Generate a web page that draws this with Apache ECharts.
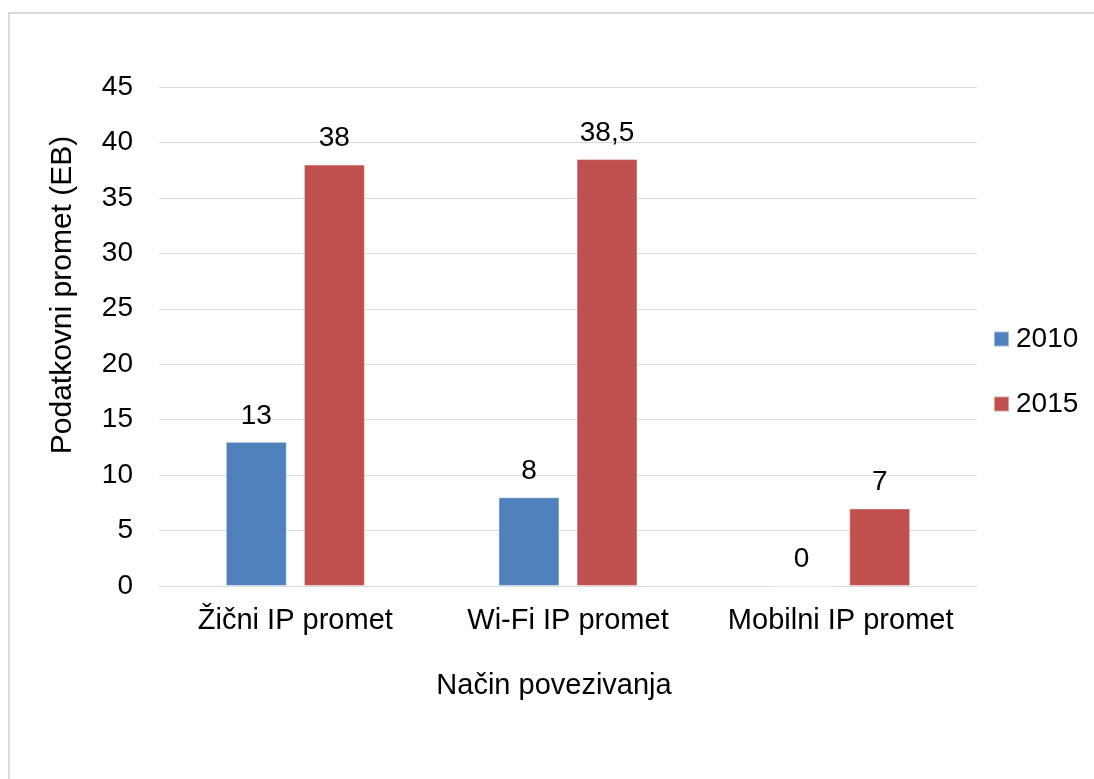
<!DOCTYPE html>
<html>
<head>
<meta charset="utf-8">
<script src="https://cdn.jsdelivr.net/npm/echarts@6/dist/echarts.min.js"></script>
<style>
html,body{margin:0;padding:0;background:#fff;}
#c{width:1094px;height:779px;}
</style>
</head>
<body>
<div id="c"></div>
<script>
const categories = ['Žični IP promet', 'Wi-Fi IP promet', 'Mobilni IP promet'];
const seriesNames = ['2010', '2015'];
const values2010 = [13, 8, 0];
const values2015 = [38, 38.5, 7];
const yTicks = { min: 0, max: 45, interval: 5 };
const xTitle = 'Način povezivanja';
const yTitle = 'Podatkovni promet (EB)';

const FONT = '"Liberation Sans", Arial, sans-serif';
const chart = echarts.init(document.getElementById('c'), null, { renderer: 'canvas' });
const fmt = p => String(p.value).replace('.', ',');
const labelCfg = { show: true, position: 'top', distance: 12, color: '#000', fontSize: 28, fontFamily: FONT, formatter: fmt };

chart.setOption({
  animation: false,
  backgroundColor: '#fff',
  textStyle: { fontFamily: FONT },
  grid: { left: 159, right: 117, top: 87, bottom: 193, containLabel: false },
  legend: {
    orient: 'vertical',
    left: 988, top: 320,
    itemWidth: 15, itemHeight: 15, itemGap: 37,
    icon: 'rect',
    textStyle: { fontSize: 28, color: '#000', fontFamily: FONT, padding: [0, 0, 0, 2] },
    data: seriesNames
  },
  xAxis: {
    type: 'category',
    data: categories,
    axisLine: { lineStyle: { color: '#D9D9D9', width: 1 } },
    axisTick: { show: false },
    axisLabel: { color: '#000', fontSize: 29, fontFamily: FONT, margin: 20, interval: 0, hideOverlap: false }
  },
  yAxis: {
    type: 'value',
    min: yTicks.min, max: yTicks.max, interval: yTicks.interval,
    axisLine: { show: false },
    axisTick: { show: false },
    splitLine: { lineStyle: { color: '#D9D9D9', width: 1 } },
    axisLabel: { color: '#000', fontSize: 28, fontFamily: FONT, margin: 26 }
  },
  graphic: [
    { type: 'rect', shape: { x: 9, y: 13, width: 1300, height: 1000 }, style: { fill: 'none', stroke: '#D9D9D9', lineWidth: 2 }, silent: true, z: -10 },
    { type: 'text', x: 554, y: 686, style: { text: xTitle, fill: '#000', font: '29px ' + FONT, textAlign: 'center', textVerticalAlign: 'middle' } },
    { type: 'text', x: 63, y: 295, rotation: Math.PI / 2, style: { text: yTitle, fill: '#000', font: '30px ' + FONT, textAlign: 'center', textVerticalAlign: 'middle' } }
  ],
  series: [
    { name: seriesNames[0], type: 'bar', data: values2010, barWidth: 61, barGap: '28%',
      itemStyle: { color: '#4F81BD', borderColor: 'rgba(255,255,255,0.45)', borderWidth: 1 }, label: labelCfg },
    { name: seriesNames[1], type: 'bar', data: values2015, barWidth: 61,
      itemStyle: { color: '#C0504D', borderColor: 'rgba(255,255,255,0.45)', borderWidth: 1 }, label: labelCfg }
  ]
});
</script>
</body>
</html>
